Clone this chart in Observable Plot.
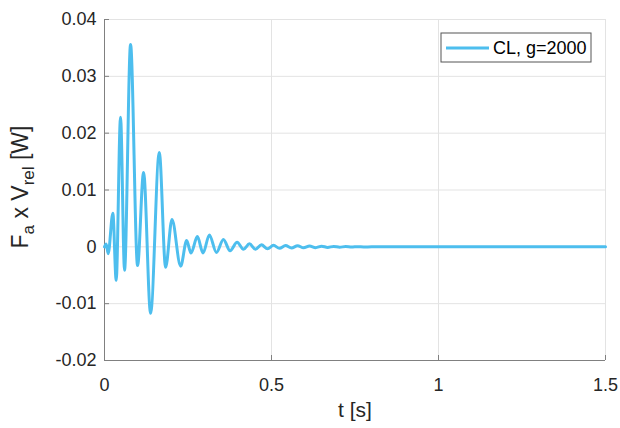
<!DOCTYPE html>
<html><head><meta charset="utf-8">
<script src="https://cdn.jsdelivr.net/npm/d3@7"></script>
<script src="https://cdn.jsdelivr.net/npm/@observablehq/plot@0.6"></script>
<style>
body{margin:0;background:#fff;}
#chart{position:relative;width:620px;height:428px;}
</style></head><body><div id="chart"></div>
<script>
// time [s] of peaks/troughs
const tValues = [0, 0.005, 0.011, 0.025, 0.035, 0.048, 0.060, 0.078, 0.099, 0.117, 0.138, 0.164, 0.183, 0.202, 0.228, 0.246, 0.259, 0.278, 0.295, 0.314, 0.335, 0.356, 0.376, 0.397, 0.416, 0.434, 0.452, 0.470, 0.488, 0.506, 0.524, 0.542, 0.560, 0.578, 0.596, 0.614, 0.632, 0.650, 0.668, 0.686, 0.704, 0.722, 0.740, 0.758, 0.776, 0.800, 1.5];
// Fa x Vrel [W]
const powerValues = [0, 0.0005, -0.0012, 0.0059, -0.0059, 0.0228, -0.0041, 0.0356, -0.0033, 0.0131, -0.0117, 0.0166, -0.0036, 0.0048, -0.0034, 0.0011, -0.0011, 0.0018, -0.0011, 0.0021, -0.0010, 0.0013, -0.0007, 0.0008, -0.00044, 0.00053, -0.00044, 0.00035, -0.00035, 0.00026, -0.00026, 0.00022, -0.00022, 0.0002, -0.00018, 0.00016, -0.00014, 0.00012, -0.0001, 0.00008, -0.00007, 0.00005, -0.00004, 0.00003, -0.00002, 0, 0];
const xTicks = [0, 0.5, 1, 1.5];
const yTicks = [-0.02, -0.01, 0, 0.01, 0.02, 0.03, 0.04];
const seriesName = "CL, g=2000";
const xTitle = "t [s]";

const data = tValues.map((t, i) => ({t, v: powerValues[i]}));
const lineColor = "#4DBEEE";
const font = "'Liberation Sans', Arial, Helvetica, sans-serif";

const chart = Plot.plot({
  width: 620, height: 428,
  marginLeft: 104, marginRight: 15, marginTop: 19, marginBottom: 68,
  style: {fontFamily: font, fontSize: "18px", color: "#262626", background: "white"},
  x: {domain: [0, 1.5]},
  y: {domain: [-0.02, 0.04]},
  marks: [
    Plot.gridX(xTicks, {stroke: "#e3e3e3", strokeOpacity: 1}),
    Plot.gridY(yTicks, {stroke: "#e3e3e3", strokeOpacity: 1}),
    Plot.ruleX([0], {stroke: "#808080"}),
    Plot.ruleY([-0.02], {stroke: "#808080"}),
    Plot.axisX(xTicks, {tickSize: -5, tickPadding: 23, tickFormat: d => String(d), label: null, stroke: "#808080", fill: "#262626", fontSize: 18}),
    Plot.axisY(yTicks, {tickSize: -5, tickPadding: 13, tickFormat: d => String(d), label: null, stroke: "#808080", fill: "#262626", fontSize: 18}),
    Plot.line(data, {x: "t", y: "v", stroke: lineColor, strokeWidth: 3, curve: "monotone-x"}),
    Plot.text([xTitle], {frameAnchor: "bottom", dy: 56, fontSize: 21, fill: "#262626"})
  ]
});
document.getElementById("chart").appendChild(chart);

const svg = d3.select(chart);
// y-axis title with subscripts
const yt = svg.append("text")
  .attr("transform", "translate(28,187) rotate(-90)")
  .attr("text-anchor", "middle")
  .attr("font-family", font)
  .attr("font-size", 23)
  .attr("fill", "#262626");
yt.append("tspan").text("F");
yt.append("tspan").attr("font-size", 17).attr("dy", 6).text("a");
yt.append("tspan").attr("dy", -6).text(" x V");
yt.append("tspan").attr("font-size", 17).attr("dy", 6).text("rel");
yt.append("tspan").attr("dy", -6).text(" [W]");

// legend
const lg = svg.append("g");
lg.append("rect").attr("x", 441).attr("y", 33).attr("width", 150).attr("height", 29)
  .attr("fill", "white").attr("stroke", "#555").attr("stroke-width", 1);
lg.append("line").attr("x1", 446).attr("x2", 489).attr("y1", 48).attr("y2", 48)
  .attr("stroke", lineColor).attr("stroke-width", 3);
lg.append("text").attr("x", 493).attr("y", 54).attr("text-anchor", "start")
  .attr("font-family", font).attr("font-size", 18)
  .attr("fill", "#000").text(seriesName);
</script>
</body></html>
